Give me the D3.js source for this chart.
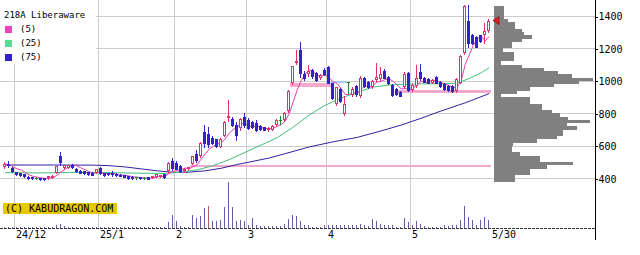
<!DOCTYPE html>
<html>
<head>
<meta charset="utf-8">
<script src="https://cdn.jsdelivr.net/npm/d3@7"></script>
<style>
  body { margin: 0; background: #fff; }
  svg { display: block; }
  text { font-family: "DejaVu Sans Mono", monospace; }
</style>
</head>
<body>
<svg width="640" height="255"></svg>
<script>
// daily candles 24/11/27 .. 25/5/30 (index 0..121)
const open = [470, 490, 465, 438, 430, 425, 410, 408, 402, 400,
  400, 400, 405, 432, 540, 465, 466, 485, 458, 448,
  442, 438, 433, 435, 462, 432, 432, 430, 428, 422,
  418, 412, 410, 405, 408, 403, 408, 402, 408, 412,
  425, 442, 505, 495, 475, 445, 455, 490, 548, 535,
  685, 675, 650, 640, 595, 662, 770, 768, 728, 708,
  775, 757, 745, 740, 725, 715, 695, 700, 728, 758,
  760, 812, 985, 1112, 1188, 1045, 1045, 1068, 1050, 1018,
  1068, 1085, 985, 855, 950, 795, 995, 915, 970, 905,
  1018, 995, 962, 1005, 1010, 1060, 1025, 975, 950, 932,
  962, 1048, 945, 966, 1055, 1020, 1012, 990, 1022, 992,
  982, 970, 968, 935, 990, 1170, 1372, 1280, 1270, 1280,
  1285, 1305]
const high = [498, 505, 468, 440, 432, 427, 412, 410, 410, 402,
  402, 415, 418, 478, 560, 485, 485, 490, 462, 452,
  445, 440, 436, 458, 468, 435, 434, 445, 430, 425,
  420, 415, 412, 410, 410, 408, 410, 414, 428, 422,
  428, 500, 525, 505, 480, 462, 470, 540, 575, 622,
  728, 718, 660, 645, 650, 750, 880, 775, 748, 772,
  800, 770, 750, 760, 728, 718, 715, 728, 765, 785,
  810, 945, 1092, 1190, 1242, 1060, 1100, 1075, 1058, 1040,
  1078, 1092, 988, 965, 958, 905, 995, 960, 975, 1030,
  1025, 1000, 1005, 1110, 1085, 1075, 1030, 980, 955, 940,
  1056, 1055, 978, 1100, 1105, 1025, 1018, 1010, 1028, 998,
  986, 975, 972, 1018, 1160, 1466, 1466, 1290, 1278, 1285,
  1355, 1380]
const low = [465, 470, 438, 420, 415, 410, 398, 396, 394, 392,
  392, 398, 403, 430, 485, 460, 462, 465, 438, 432,
  428, 422, 420, 432, 425, 415, 422, 415, 415, 412,
  405, 398, 398, 398, 398, 398, 396, 400, 405, 410,
  400, 438, 450, 455, 440, 440, 450, 488, 500, 530,
  590, 595, 612, 592, 590, 658, 755, 725, 636, 700,
  715, 705, 710, 690, 700, 695, 692, 698, 725, 735,
  755, 808, 980, 1105, 1025, 1005, 1028, 1020, 1002, 1012,
  1035, 985, 890, 850, 870, 790, 925, 905, 910, 900,
  960, 955, 955, 998, 1005, 1015, 980, 905, 912, 905,
  955, 938, 940, 962, 1005, 992, 985, 985, 985, 962,
  945, 940, 930, 930, 985, 1165, 1210, 1228, 1208, 1240,
  1232, 1300]
const close = [488, 480, 442, 425, 420, 413, 402, 400, 402, 395,
  396, 412, 415, 475, 500, 482, 482, 470, 445, 435,
  430, 425, 422, 455, 430, 418, 425, 425, 418, 415,
  410, 403, 402, 405, 400, 403, 398, 412, 425, 420,
  405, 495, 462, 460, 442, 458, 468, 535, 515, 615,
  620, 610, 618, 596, 645, 745, 785, 730, 668, 768,
  730, 710, 715, 700, 705, 700, 712, 725, 760, 758,
  805, 940, 1090, 1125, 1050, 1018, 1062, 1028, 1008, 1035,
  1040, 990, 895, 960, 875, 860, 995, 952, 918, 1020,
  968, 960, 1000, 1022, 1040, 1020, 985, 915, 920, 910,
  1040, 942, 972, 1018, 1016, 996, 990, 1005, 990, 966,
  950, 945, 935, 1012, 1155, 1460, 1232, 1233, 1212, 1243,
  1310, 1372]
const volume = [8, 6, 8, 6, 5, 5, 6, 5, 5, 5,
  5, 6, 6, 33, 43, 17, 8, 6, 6, 5,
  5, 5, 5, 6, 7, 6, 5, 5, 5, 5,
  5, 5, 5, 5, 5, 5, 5, 6, 7, 6,
  7, 60, 133, 70, 17, 10, 10, 127, 100, 117,
  200, 217, 67, 67, 77, 210, 460, 210, 67, 77,
  67, 27, 100, 27, 20, 20, 20, 20, 20, 20,
  43, 93, 127, 117, 67, 33, 33, 15, 15, 15,
  27, 27, 27, 27, 27, 27, 27, 27, 27, 43,
  27, 20, 87, 67, 43, 27, 27, 33, 10, 10,
  100, 60, 33, 67, 43, 17, 10, 10, 10, 10,
  27, 17, 27, 33, 77, 217, 110, 77, 33, 77,
  110, 77]
const markedVolume = [51]

// moving averages: [day index, price]
const ma25 = [[0, 435], [8, 433], [16, 436], [24, 436], [32, 432], [40, 430], [44, 438], [48, 452],
  [52, 478], [56, 515], [60, 560], [64, 605], [68, 650], [72, 715], [76, 790], [80, 850],
  [84, 895], [88, 930], [92, 962], [96, 975], [100, 980], [105, 982], [110, 983], [113, 986],
  [116, 1015], [119, 1050], [121, 1082]]
const ma75 = [[0, 482], [12, 482], [22, 481], [26, 478], [30, 470], [34, 458], [38, 446], [42, 437],
  [46, 438], [50, 446], [54, 462], [58, 485], [62, 505], [66, 525], [70, 552], [76, 593],
  [82, 625], [88, 652], [94, 692], [99, 728], [104, 770], [109, 815], [115, 865], [121, 922]]

// price gaps (窓): from/to day index, price range, up or down
const gapFrom = [46.4, 71.4, 81.6, 98.4]
const gapTo = [121.5, 81.6, 85.6, 121.5]
const gapLow = [470, 962, 985, 925]
const gapHigh = [481, 985, 1000, 942]
const gapKind = ['up', 'up', 'down', 'up']

// volume by price, 20 yen bins
const profileLow = [380, 400, 420, 440, 460, 480, 500, 520, 540, 560, 580, 600, 620, 640, 660, 680,
  700, 720, 740, 760, 780, 800, 820, 840, 860, 880, 900, 920, 940, 960, 980, 1000, 1020, 1040,
  1060, 1080, 1100, 1120, 1140, 1160, 1180, 1200, 1220, 1240, 1260, 1280, 1300, 1320, 1340,
  1360, 1380, 1400, 1420, 1440]
const profileVol = [21, 21, 36, 36, 53, 79, 46, 46, 26, 18, 18, 19, 43, 63, 69, 69,
  83, 73, 96, 74, 66, 58, 48, 48, 36, 36, 7, 23, 36, 60, 85, 99, 78, 64,
  50, 28, 7, 20, 20, 20, 9, 18, 18, 28, 38, 30, 28, 21, 21,
  14, 10, 10, 10, 10]

const monthStarts = [3, 24, 43, 61, 81, 102]
const monthLabels = ['24/12', '25/1', '2', '3', '4', '5']
const lastLabel = '5/30'
const priceTicks = [400, 600, 800, 1000, 1200, 1400]

const svg = d3.select('svg'),
  x = d3.scaleLinear().domain([0, 121]).range([4.7, 488.7]),
  y = d3.scaleLinear().domain([400, 1400]).range([178.3, 16]),
  yVol = d3.scaleLinear().domain([0, d3.max(volume)]).range([228, 182]),
  wProf = d3.scaleLinear().domain([0, d3.max(profileVol)]).range([0, 99]),
  cx = i => Math.floor(x(i)),
  py = p => Math.round(y(p))

const colors = { up: '#e0306e', down: '#3322c8', doji: '#1f8a2a', ma5: '#e040b0', ma25: '#40c078', ma75: '#3322a0' }

svg.append('rect').attr('width', 640).attr('height', 255).attr('fill', '#fff')

// grid
const grid = svg.append('g').attr('shape-rendering', 'crispEdges').attr('stroke', '#cccccc')
grid.selectAll('line.h').data(priceTicks).join('line').attr('class', 'h')
  .attr('x1', 0).attr('x2', 595).attr('y1', d => py(d) + 0.5).attr('y2', d => py(d) + 0.5)
grid.selectAll('line.v').data(monthStarts).join('line').attr('class', 'v')
  .attr('x1', d => cx(d) - 2 + 0.5).attr('x2', d => cx(d) - 2 + 0.5).attr('y1', 0).attr('y2', 228)

// volume profile
svg.append('g').attr('fill', '#808080').attr('shape-rendering', 'crispEdges')
  .selectAll('rect').data(profileLow).join('rect')
  .attr('x', 494)
  .attr('y', d => py(d + 20))
  .attr('width', (d, i) => Math.round(wProf(profileVol[i])))
  .attr('height', d => py(d) - py(d + 20))

// gaps
svg.append('g').attr('shape-rendering', 'crispEdges')
  .selectAll('rect').data(gapFrom).join('rect')
  .attr('x', d => x(d))
  .attr('width', (d, i) => x(gapTo[i]) - x(d))
  .attr('y', (d, i) => py(gapHigh[i]))
  .attr('height', (d, i) => Math.max(2, py(gapLow[i]) - py(gapHigh[i])))
  .attr('fill', (d, i) => (gapKind[i] === 'up' ? '#f3a9cc' : '#a9c9f0'))

// moving averages
const ma5 = close.map((c, i) => {
  const w = close.slice(Math.max(0, i - 4), i + 1)
  return [i, d3.mean(w)]
})
const line = d3.line().x(d => x(d[0]) + 0.5).y(d => y(d[1]))
const drawLine = (pts, color) =>
  svg.append('path').attr('d', line(pts)).attr('fill', 'none').attr('stroke', color).attr('stroke-width', 1)
drawLine(ma75, colors.ma75)
drawLine(ma25, colors.ma25)
drawLine(ma5, colors.ma5)

// candles
const candles = svg.append('g').attr('shape-rendering', 'crispEdges')
  .selectAll('g').data(close).join('g')
candles.each(function (c, i) {
  const g = d3.select(this),
    o = open[i],
    kind = c > o ? 'up' : c < o ? 'down' : 'doji',
    col = colors[kind],
    xc = cx(i)
  g.append('line')
    .attr('x1', xc + 0.5).attr('x2', xc + 0.5)
    .attr('y1', py(high[i])).attr('y2', py(low[i]) + 1)
    .attr('stroke', col)
  if (kind === 'up') {
    g.append('rect')
      .attr('x', xc - 0.5).attr('width', 2)
      .attr('y', py(c) + 0.5).attr('height', Math.max(1, py(o) - py(c) - 1))
      .attr('fill', '#fff').attr('stroke', col)
  } else if (kind === 'down') {
    g.append('rect')
      .attr('x', xc - 1).attr('width', 3)
      .attr('y', py(o)).attr('height', Math.max(1, py(c) - py(o) + 1))
      .attr('fill', col)
  } else {
    g.append('rect').attr('x', xc - 1).attr('width', 3).attr('y', py(o)).attr('height', 1).attr('fill', col)
  }
})

// volume
svg.append('g').attr('shape-rendering', 'crispEdges')
  .selectAll('line').data(volume).join('line')
  .attr('x1', (d, i) => cx(i) + 0.5).attr('x2', (d, i) => cx(i) + 0.5)
  .attr('y1', 228).attr('y2', d => Math.min(227, Math.round(yVol(d))))
  .attr('stroke', (d, i) => (markedVolume.includes(i) ? '#b06060' : '#6a5aa8'))
svg.append('line').attr('x1', 0).attr('x2', 595).attr('y1', 228.5).attr('y2', 228.5)
  .attr('stroke', '#333').attr('stroke-dasharray', '3,1').attr('shape-rendering', 'crispEdges')

// last price marker
const lastY = y(close[close.length - 1])
svg.append('path')
  .attr('d', `M${493},${lastY} L${499},${lastY - 4} L${499},${lastY + 4} Z`)
  .attr('fill', '#e02020').attr('stroke', '#901010').attr('stroke-width', 0.8)

// right axis
svg.append('line').attr('x1', 595.5).attr('x2', 595.5).attr('y1', 0).attr('y2', 240)
  .attr('stroke', '#000').attr('shape-rendering', 'crispEdges')
const axisY = svg.append('g').attr('transform', 'translate(595.5,0.5)')
  .call(d3.axisRight(y).tickValues(priceTicks).tickFormat(d3.format('d')).tickSize(2).tickPadding(1))
axisY.select('.domain').remove()
axisY.selectAll('text').attr('font-family', '"DejaVu Sans Mono", monospace').attr('font-size', 10).attr('fill', '#000')
axisY.selectAll('line').attr('shape-rendering', 'crispEdges').attr('stroke', '#000')

// date labels
svg.append('g').attr('font-size', 10).attr('fill', '#000')
  .selectAll('text').data(monthStarts).join('text')
  .attr('x', d => cx(d)).attr('y', 238).text((d, i) => monthLabels[i])
svg.append('text').attr('x', cx(122)).attr('y', 238).attr('font-size', 10).text(lastLabel)

// legend
const legend = svg.append('g')
legend.append('rect').attr('width', 96).attr('height', 64).attr('fill', '#fff')
legend.append('text').attr('x', 4).attr('y', 18).attr('font-size', 9).text('218A Liberaware')
const legendItems = [['(5)', '#f040c0'], ['(25)', '#5cd890'], ['(75)', '#3322c8']]
legendItems.forEach(([label, col], k) => {
  legend.append('rect').attr('x', 5).attr('y', 26 + k * 14).attr('width', 7).attr('height', 7).attr('fill', col)
  legend.append('text').attr('x', 20).attr('y', 32 + k * 14).attr('font-size', 9).text(label)
})

// copyright
svg.append('rect').attr('x', 3).attr('y', 203).attr('width', 114).attr('height', 11).attr('fill', '#e8c800')
svg.append('text').attr('x', 5).attr('y', 212).attr('font-size', 10).text('(C) KABUDRAGON.COM')
</script>
</body>
</html>
